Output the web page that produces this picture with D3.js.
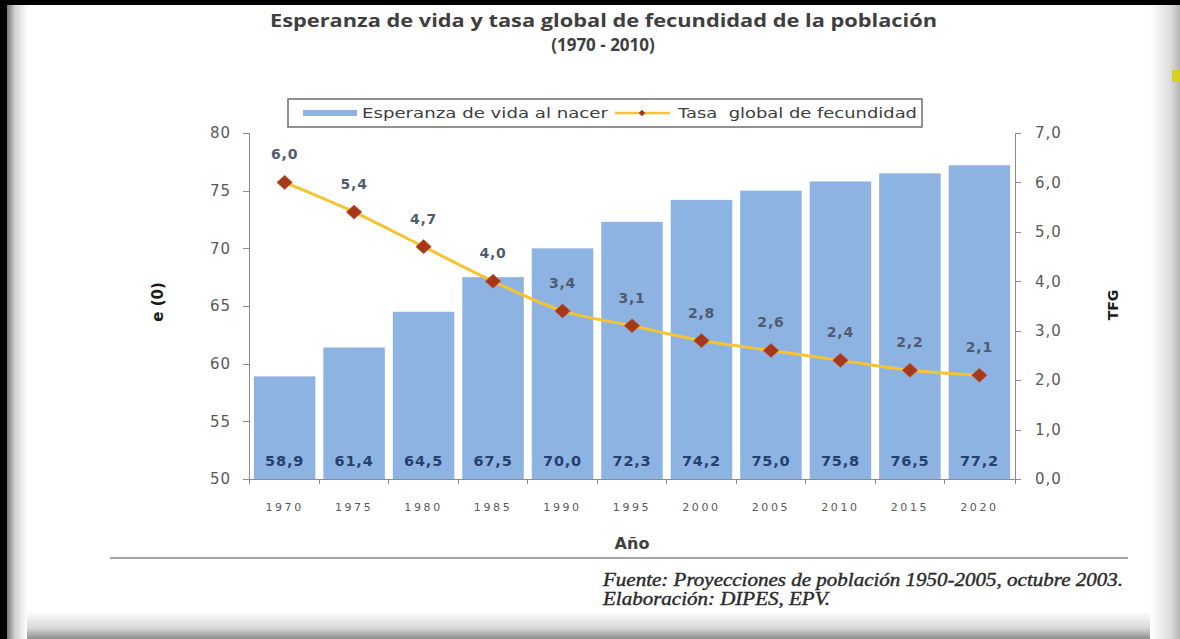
<!DOCTYPE html>
<html lang="es">
<head>
    <meta charset="UTF-8">
    <title>Esperanza de vida y TGF</title>
    <script src="https://d3js.org/d3.v7.min.js"></script>
    <style>
        body { margin: 0; background: #fff; }
        svg { display: block; }
        .axis path, .axis line { stroke: #8c8c8c; shape-rendering: crispEdges; }
        .axis text { font-family: "DejaVu Sans", sans-serif; fill: #595959; }
    </style>
</head>
<body>
<div id="chart"></div>
<script>
    // Data
    const years = ["1970", "1975", "1980", "1985", "1990", "1995", "2000", "2005", "2010", "2015", "2020"];
    const lifeExp = [58.9, 61.4, 64.5, 67.5, 70.0, 72.3, 74.2, 75.0, 75.8, 76.5, 77.2];
    const tfg = [6.0, 5.4, 4.7, 4.0, 3.4, 3.1, 2.8, 2.6, 2.4, 2.2, 2.1];
    const leftTicks = [50, 55, 60, 65, 70, 75, 80];
    const rightTicks = [0, 1, 2, 3, 4, 5, 6, 7];

    const W = 1180, H = 639;
    const fmt = v => d3.format(".1f")(v).replace(".", ",");

    const svg = d3.select("#chart").append("svg")
        .attr("width", W).attr("height", H);

    // frame shadows
    const defs = svg.append("defs");
    const gl = defs.append("linearGradient").attr("id", "gl");
    gl.append("stop").attr("offset", 0).attr("stop-color", "#7a7a7a");
    gl.append("stop").attr("offset", 0.4).attr("stop-color", "#d0d0d0");
    gl.append("stop").attr("offset", 1).attr("stop-color", "#fff");
    const gr = defs.append("linearGradient").attr("id", "gr");
    gr.append("stop").attr("offset", 0).attr("stop-color", "#fff");
    gr.append("stop").attr("offset", 0.7).attr("stop-color", "#dcdcdc");
    gr.append("stop").attr("offset", 1).attr("stop-color", "#b4b4b4");
    const gb = defs.append("linearGradient").attr("id", "gb")
        .attr("x1", 0).attr("y1", 0).attr("x2", 0).attr("y2", 1);
    gb.append("stop").attr("offset", 0).attr("stop-color", "#fff");
    gb.append("stop").attr("offset", 0.6).attr("stop-color", "#d6d6d6");
    gb.append("stop").attr("offset", 1).attr("stop-color", "#8e8e8e");

    svg.append("rect").attr("x", 0).attr("y", 0).attr("width", W).attr("height", H).attr("fill", "#fff");
    svg.append("rect").attr("x", 0).attr("y", 612).attr("width", W).attr("height", 27).attr("fill", "url(#gb)");
    svg.append("rect").attr("x", 7).attr("y", 0).attr("width", 20).attr("height", H).attr("fill", "url(#gl)");
    svg.append("rect").attr("x", 1150).attr("y", 0).attr("width", 30).attr("height", H).attr("fill", "url(#gr)");
    svg.append("rect").attr("x", 0).attr("y", 0).attr("width", 7).attr("height", H).attr("fill", "#000");
    svg.append("rect").attr("x", 0).attr("y", 0).attr("width", W).attr("height", 5).attr("fill", "#000");
    svg.append("rect").attr("x", 1172).attr("y", 70).attr("width", 8).attr("height", 12).attr("fill", "#d8d020");

    // Scales
    const plotL = 249, plotR = 1015, plotT = 133, plotB = 479;
    const x = d3.scaleBand().domain(years).range([plotL, plotR])
        .paddingInner(0.115).paddingOuter(0.07);
    const yL = d3.scaleLinear().domain([50, 80]).range([plotB, plotT]);
    const yR = d3.scaleLinear().domain([0, 7]).range([plotB, plotT]);

    // Bars
    svg.selectAll(".bar").data(years).enter().append("rect")
        .attr("class", "bar")
        .attr("x", d => x(d))
        .attr("y", (d, i) => yL(lifeExp[i]))
        .attr("width", x.bandwidth())
        .attr("height", (d, i) => plotB - yL(lifeExp[i]))
        .attr("fill", "#8db3e2");

    svg.selectAll(".barlab").data(years).enter().append("text")
        .attr("x", d => x(d) + x.bandwidth() / 2)
        .attr("y", 466)
        .attr("text-anchor", "middle")
        .style("font-family", "DejaVu Sans, sans-serif")
        .style("font-weight", "bold")
        .style("font-size", "14.5px")
        .style("letter-spacing", "0.8px")
        .attr("fill", "#24406e")
        .text((d, i) => fmt(lifeExp[i]));

    // Axes
    const axL = svg.append("g").attr("class", "axis")
        .attr("transform", `translate(${plotL},0)`)
        .call(d3.axisLeft(yL).tickValues(leftTicks).tickSize(6).tickPadding(12));
    axL.selectAll("text").style("font-size", "15px").style("letter-spacing", "1px");

    const axR = svg.append("g").attr("class", "axis")
        .attr("transform", `translate(${plotR},0)`)
        .call(d3.axisRight(yR).tickValues(rightTicks).tickSize(6).tickPadding(14).tickFormat(fmt));
    axR.selectAll("text").style("font-size", "15px").style("letter-spacing", "1px");

    // bottom axis: labels centered, ticks between categories
    const axB = svg.append("g").attr("class", "axis")
        .attr("transform", `translate(0,${plotB})`)
        .call(d3.axisBottom(x).tickSize(0).tickPadding(24));
    axB.selectAll("text").style("font-size", "11px").style("letter-spacing", "2.6px");
    axB.select(".domain").attr("d", `M${plotL},0.5H${plotR}`);
    const bounds = years.map(d => x(d) - x.step() * x.paddingInner() / 2).concat([plotR]);
    axB.selectAll(".sep").data(bounds).enter().append("line")
        .attr("x1", d => d).attr("x2", d => d)
        .attr("y1", 0).attr("y2", 5)
        .attr("stroke", "#8c8c8c");

    // Line
    const line = d3.line()
        .x((d, i) => x(years[i]) + x.bandwidth() / 2)
        .y(d => yR(d))
        .curve(d3.curveMonotoneX);
    svg.append("path").datum(tfg)
        .attr("d", line)
        .attr("fill", "none")
        .attr("stroke", "#f5c431")
        .attr("stroke-width", 3);

    const diamond = d3.symbol().type(d3.symbolSquare).size(100);
    svg.selectAll(".pt").data(tfg).enter().append("path")
        .attr("d", diamond)
        .attr("transform", (d, i) => `translate(${x(years[i]) + x.bandwidth() / 2},${yR(d)}) scale(1.1,1) rotate(45)`)
        .attr("fill", "#a5371b")
        .attr("stroke", "#c8613a")
        .attr("stroke-width", 0.6);

    svg.selectAll(".ptlab").data(tfg).enter().append("text")
        .attr("x", (d, i) => x(years[i]) + x.bandwidth() / 2)
        .attr("y", d => yR(d) - 23)
        .attr("text-anchor", "middle")
        .style("font-family", "DejaVu Sans, sans-serif")
        .style("font-weight", "bold")
        .style("font-size", "14px")
        .style("letter-spacing", "0.8px")
        .attr("fill", "#4f5c70")
        .text(d => fmt(d));

    // Axis titles
    svg.append("text")
        .attr("transform", "translate(163,302) rotate(-90)")
        .attr("text-anchor", "middle")
        .style("font-family", "DejaVu Sans, sans-serif")
        .style("font-weight", "bold").style("font-size", "15px")
        .attr("fill", "#1a1a1a")
        .text("e (0)");
    svg.append("text")
        .attr("transform", "translate(1118,305) rotate(-90)")
        .attr("text-anchor", "middle")
        .style("font-family", "DejaVu Sans, sans-serif")
        .style("font-weight", "bold").style("font-size", "14px")
        .attr("fill", "#1a1a1a")
        .text("TFG");
    svg.append("text")
        .attr("x", 632).attr("y", 549)
        .attr("text-anchor", "middle")
        .style("font-family", "DejaVu Sans, sans-serif")
        .style("font-weight", "bold").style("font-size", "16px")
        .attr("fill", "#404040")
        .text("Año");

    // Title
    svg.append("text")
        .attr("x", 270).attr("y", 27)
        .attr("textLength", 667).attr("lengthAdjust", "spacingAndGlyphs")
        .style("font-family", "Open Sans, sans-serif")
        .style("font-weight", "bold").style("font-size", "17px")
        .attr("fill", "#3f3f3f")
        .text("Esperanza de vida y tasa global de fecundidad de la población");
    svg.append("text")
        .attr("x", 603).attr("y", 51)
        .attr("text-anchor", "middle")
        .style("font-family", "Open Sans, sans-serif")
        .style("font-weight", "bold").style("font-size", "17px")
        .attr("fill", "#3f3f3f")
        .text("(1970 - 2010)");

    // Legend
    const lg = svg.append("g");
    lg.append("rect").attr("x", 288).attr("y", 99).attr("width", 634).attr("height", 28)
        .attr("fill", "#fff").attr("stroke", "#6e6e6e").attr("stroke-width", 1.5);
    lg.append("rect").attr("x", 303).attr("y", 110).attr("width", 54).attr("height", 6).attr("fill", "#8db3e2");
    lg.append("text").attr("x", 362).attr("y", 118)
        .attr("textLength", 246).attr("lengthAdjust", "spacingAndGlyphs")
        .style("font-family", "DejaVu Sans, sans-serif").style("font-size", "14px")
        .attr("fill", "#404040").text("Esperanza de vida al nacer");
    lg.append("line").attr("x1", 615).attr("x2", 670).attr("y1", 113).attr("y2", 113)
        .attr("stroke", "#f5c431").attr("stroke-width", 2.5);
    lg.append("path").attr("d", d3.symbol().type(d3.symbolSquare).size(22))
        .attr("transform", "translate(642,113) rotate(45)").attr("fill", "#a5371b");
    lg.append("text").attr("x", 678).attr("y", 118)
        .attr("textLength", 239).attr("lengthAdjust", "spacingAndGlyphs")
        .style("font-family", "DejaVu Sans, sans-serif").style("font-size", "14px")
        .style("white-space", "pre")
        .attr("fill", "#404040").text("Tasa  global de fecundidad");

    // Rule and source
    svg.append("line").attr("x1", 110).attr("x2", 1128).attr("y1", 558).attr("y2", 558)
        .attr("stroke", "#a6a6a6").attr("stroke-width", 2);
    svg.append("text").attr("x", 603).attr("y", 586)
        .attr("textLength", 520).attr("lengthAdjust", "spacingAndGlyphs")
        .style("font-family", "Liberation Serif, serif").style("font-style", "italic")
        .style("font-size", "18px").attr("fill", "#2b2b2b")
        .attr("stroke", "#2b2b2b").attr("stroke-width", 0.4)
        .text("Fuente: Proyecciones de población 1950-2005, octubre 2003.");
    svg.append("text").attr("x", 603).attr("y", 605)
        .attr("textLength", 227).attr("lengthAdjust", "spacingAndGlyphs")
        .style("font-family", "Liberation Serif, serif").style("font-style", "italic")
        .style("font-size", "18px").attr("fill", "#2b2b2b")
        .attr("stroke", "#2b2b2b").attr("stroke-width", 0.4)
        .text("Elaboración: DIPES, EPV.");
</script>
</body>
</html>
